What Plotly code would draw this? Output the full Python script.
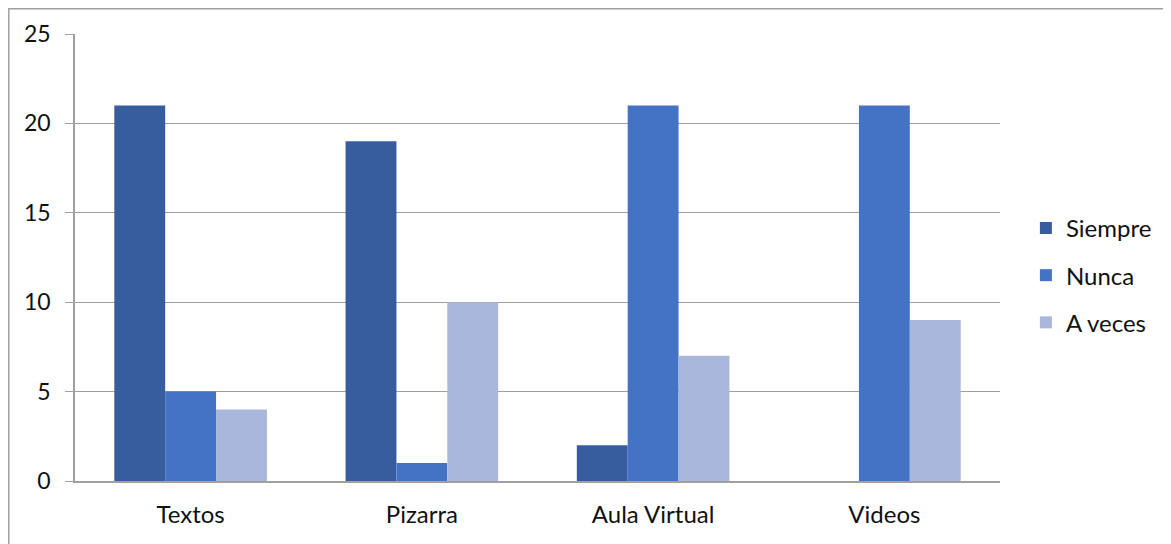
import plotly.graph_objects as go

categorias = ["Textos", "Pizarra", "Aula Virtual", "Videos"]
siempre = [21, 19, 2, 0]
nunca = [5, 1, 21, 21]
a_veces = [4, 10, 7, 9]

series = [
    ("Siempre", siempre, "#385D9F"),
    ("Nunca", nunca, "#4472C4"),
    ("A veces", a_veces, "#A8B7DB"),
]

fig = go.Figure()
for i, (name, vals, color) in enumerate(series):
    fig.add_trace(go.Bar(
        x=categorias, y=vals, name=name, legendgroup=str(i),
        marker=dict(color=color, line=dict(width=0)),
    ))

font = "Lato, 'Noto Sans', sans-serif"
# the page body adds 8px, so margins are shifted to compensate
fig.update_layout(
    width=1171, height=544,
    margin=dict(l=67, r=179, t=26, b=71),
    paper_bgcolor="white", plot_bgcolor="white",
    barmode="group", bargap=0.34, bargroupgap=0,
    font=dict(family=font, size=24, color="#111111"),
    showlegend=True,
    legend=dict(x=1.028, y=0.46, yanchor="middle", xanchor="left",
                tracegroupgap=13, font=dict(size=24),
                itemwidth=30, traceorder="grouped"),
    xaxis=dict(showline=True, linecolor="#A0A0A0", linewidth=1.5,
               ticks="", showgrid=False, tickfont=dict(size=24),
               ticklabelstandoff=11),
    yaxis=dict(range=[0, 25], dtick=5, showgrid=True, gridcolor="#A0A0A0",
               gridwidth=1, showline=True, linecolor="#A0A0A0", linewidth=1.5,
               ticks="outside", ticklen=8, tickcolor="#A0A0A0",
               zeroline=False, tickfont=dict(size=23), ticklabelstandoff=10),
    # chart frame, pushed to the very edge of the figure
    shapes=[dict(type="rect", xref="paper", yref="paper",
                 x0=-66.2 / 925, x1=1.3, y0=-0.3, y1=1 + 25.2 / 447,
                 line=dict(color="#A0A0A0", width=1.5), fillcolor="rgba(0,0,0,0)",
                 layer="below")],
)

fig.write_html("out.html")
